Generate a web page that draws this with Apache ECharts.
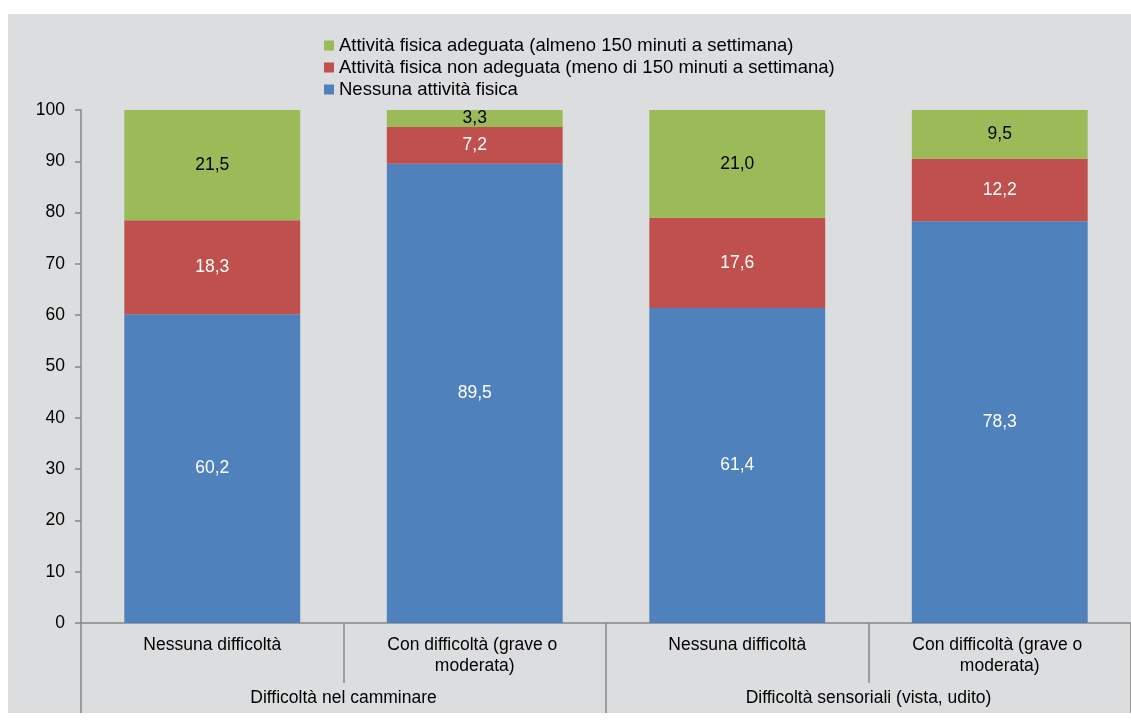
<!DOCTYPE html>
<html>
<head>
<meta charset="utf-8">
<script src="https://cdn.jsdelivr.net/npm/echarts@6/dist/echarts.min.js"></script>
<style>
  html, body { margin: 0; padding: 0; background: #ffffff; width: 1131px; height: 722px; overflow: hidden; }
  #chart { position: absolute; left: 8px; top: 14px; width: 1123px; height: 699px; background: #dcdddf; }
</style>
</head>
<body>
<div id="chart"></div>
<script>
const categories = ['Nessuna difficoltà', 'Con difficoltà (grave o moderata)', 'Nessuna difficoltà', 'Con difficoltà (grave o moderata)'];
const groups = ['Difficoltà nel camminare', 'Difficoltà sensoriali (vista, udito)'];
const seriesNames = [
  'Nessuna attività fisica',
  'Attività fisica non adeguata (meno di 150 minuti a settimana)',
  'Attività fisica adeguata (almeno 150 minuti a settimana)'
];
const nessuna = [60.2, 89.5, 61.4, 78.3];
const nonAdeguata = [18.3, 7.2, 17.6, 12.2];
const adeguata = [21.5, 3.3, 21.0, 9.5];
const yTicks = { min: 0, max: 100, interval: 10 };

const FONT = '"Liberation Sans", Arial, sans-serif';
const FS = 17.5;
const colors = ['#4f81bd', '#c0504d', '#9bbb59'];
const labelColors = ['#ffffff', '#ffffff', '#000000'];
const values = [nessuna, nonAdeguata, adeguata];
const axisGray = '#878787';

const chart = echarts.init(document.getElementById('chart'), null, { renderer: 'canvas' });

const series = seriesNames.map((name, i) => ({
  name: name,
  type: 'bar',
  stack: 'total',
  barWidth: '67%',
  xAxisIndex: 0,
  itemStyle: { color: colors[i] },
  label: {
    show: true,
    position: 'inside',
    color: labelColors[i],
    fontFamily: FONT,
    fontSize: FS,
    formatter: p => p.value.toFixed(1).replace('.', ',')
  },
  emphasis: { disabled: true },
  data: values[i]
}));

chart.setOption({
  animation: false,
  textStyle: { fontFamily: FONT },
  legend: {
    orient: 'vertical',
    left: 311,
    top: 17,
    itemWidth: 10,
    itemHeight: 10,
    itemGap: 3,
    icon: 'rect',
    data: [seriesNames[2], seriesNames[1], seriesNames[0]],
    textStyle: { fontFamily: FONT, fontSize: 18.5, color: '#000', lineHeight: 18 }
  },
  grid: { left: 73, right: 0, top: 96, bottom: 90, containLabel: false },
  xAxis: [
    {
      type: 'category',
      data: categories,
      position: 'bottom',
      axisLine: { show: true, lineStyle: { color: axisGray, width: 1.5 } },
      axisTick: { show: true, interval: 0, alignWithLabel: false, length: 60, lineStyle: { color: axisGray, width: 1.5 } },
      axisLabel: {
        interval: 0,
        margin: 11.5,
        color: '#000',
        fontFamily: FONT,
        fontSize: FS,
        lineHeight: 21,
        width: 200,
        overflow: 'break'
      }
    },
    {
      type: 'category',
      data: groups,
      position: 'bottom',
      gridIndex: 0,
      axisLine: { show: false },
      axisTick: { show: true, interval: 0, alignWithLabel: false, length: 90, lineStyle: { color: axisGray, width: 1.5 } },
      axisLabel: {
        interval: 0,
        margin: 64.5,
        color: '#000',
        fontFamily: FONT,
        fontSize: FS,
        lineHeight: 21
      }
    }
  ],
  yAxis: {
    type: 'value',
    min: yTicks.min,
    max: yTicks.max,
    interval: yTicks.interval,
    axisLine: { show: true, lineStyle: { color: axisGray, width: 1.5 } },
    axisTick: { show: true, inside: false, length: 6, lineStyle: { color: axisGray, width: 1.5 } },
    splitLine: { show: false },
    axisLabel: { margin: 16, color: '#000', fontFamily: FONT, fontSize: FS }
  },
  series: series
});
</script>
</body>
</html>
